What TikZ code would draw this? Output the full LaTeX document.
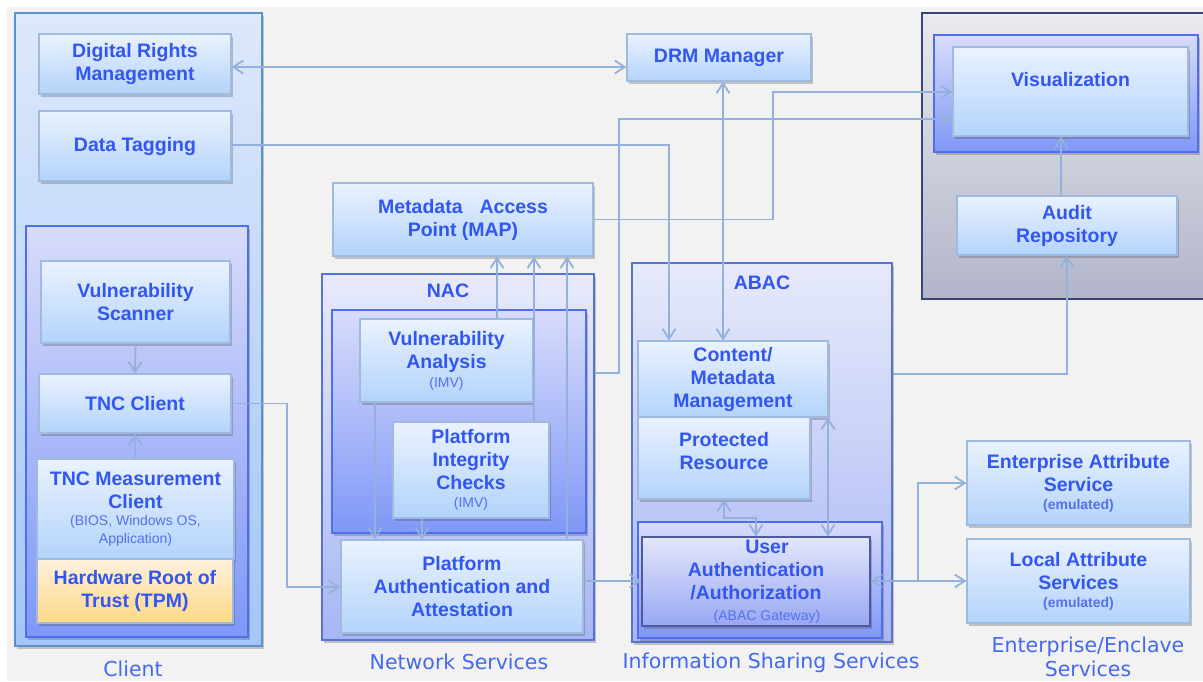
\documentclass[tikz,border=0pt]{standalone}
\usepackage{fontspec}
\setmainfont{Liberation Sans}
\newfontfamily\captionfam{DejaVu Sans}
\usetikzlibrary{arrows.meta,shadows}

\definecolor{paper}{HTML}{F2F2F2}
\definecolor{txtblue}{RGB}{50,86,242}
\definecolor{subblue}{RGB}{84,112,236}
\definecolor{capblue}{RGB}{68,104,242}
\definecolor{wire}{HTML}{93B1DA}
\definecolor{blkTop}{HTML}{EAF2FE}
\definecolor{blkBot}{HTML}{B3D3FB}
\definecolor{blkLine}{HTML}{9FBADF}
\definecolor{purTop}{HTML}{D8DCFA}
\definecolor{purBot}{HTML}{7F97F7}
\definecolor{purLine}{HTML}{4F6EEF}
\definecolor{lavTop}{HTML}{E7EAFB}
\definecolor{lavBot}{HTML}{A8B6F3}
\definecolor{lavLine}{HTML}{5572D4}
\definecolor{cliTop}{HTML}{DDE8FB}
\definecolor{cliBot}{HTML}{A3C6F8}
\definecolor{cliLine}{HTML}{5B93C9}
\definecolor{hwTop}{HTML}{FEF1DC}
\definecolor{hwBot}{HTML}{FDD886}
\definecolor{gwTop}{HTML}{E3E6FA}
\definecolor{gwBot}{HTML}{98A8F3}
\definecolor{gwLine}{HTML}{4B5B9C}
\definecolor{grTop}{HTML}{E9EAEE}
\definecolor{grBot}{HTML}{B2B5CA}
\definecolor{grLine}{HTML}{394777}

\newcommand\subtxt[1]{{\mdseries\fontsize{14}{17}\selectfont\color{subblue}#1}}
\newcommand\subbold[1]{{\fontsize{14}{17}\selectfont\color{subblue}#1}}

\tikzset{
  shade box/.style={drop shadow={shadow xshift=2pt, shadow yshift=-2.5pt, opacity=0.28, fill=black!75}},
  blk/.style={rectangle, draw=blkLine, line width=1.2pt, top color=blkTop, bottom color=blkBot,
    inner sep=0pt, align=center, text=txtblue, font=\bfseries\fontsize{19.5}{23}\selectfont, shade box},
  hwblk/.style={blk, top color=hwTop, bottom color=hwBot},
  gwblk/.style={blk, draw=gwLine, top color=gwTop, bottom color=gwBot},
  purplebox/.style={rectangle, draw=purLine, line width=1.3pt, top color=purTop, bottom color=purBot, inner sep=0pt, shade box},
  lavbox/.style={rectangle, draw=lavLine, line width=1.3pt, top color=lavTop, bottom color=lavBot, inner sep=0pt, shade box},
  clientbox/.style={rectangle, draw=cliLine, line width=1.3pt, top color=cliTop, bottom color=cliBot, inner sep=0pt, shade box},
  graybox/.style={rectangle, draw=grLine, line width=1.3pt, top color=grTop, bottom color=grBot, inner sep=0pt},
  boxtitle/.style={text=txtblue, font=\bfseries\fontsize{19.5}{23}\selectfont, inner sep=0pt},
  inlabel/.style={text=txtblue, font=\bfseries\fontsize{19.5}{23}\selectfont, align=center, inner sep=0pt},
  caption/.style={text=capblue, font=\captionfam\fontsize{20.5}{23.5}\selectfont, align=center, inner sep=0pt},
  conn/.style={draw=wire, line width=1.8pt},
  >={Straight Barb[length=10pt,width=13pt]}
}

\begin{document}
\begin{tikzpicture}[x=1pt,y=-1pt]
\useasboundingbox (0,0) rectangle (1203,681);
\fill[white] (0,0) rectangle (1203,681);
\fill[paper] (7,7) rectangle (1203,681);

% ---- group containers ----
\node[clientbox, minimum width=247, minimum height=633] (clientOut) at (138.5,329.5) {};
\node[purplebox, minimum width=222, minimum height=411] (clientIn) at (137,431.5) {};
\node[lavbox, minimum width=272, minimum height=366] (nacOut) at (458,457) {};
\node[purplebox, minimum width=254, minimum height=223] (nacIn) at (459,421.5) {};
\node[lavbox, minimum width=260, minimum height=379] (abacOut) at (762,452.5) {};
\node[purplebox, minimum width=244, minimum height=116] (gwBox) at (760,580) {};
\node[graybox, minimum width=288, minimum height=286] (auditOut) at (1066,156) {};
\node[purplebox, minimum width=264, minimum height=117] (vizBox) at (1066,93.5) {};

\node[boxtitle] (nacTitle) at (448,291) {NAC};
\node[boxtitle] (abacTitle) at (762,283) {ABAC};

% ---- client side ----
\node[blk, minimum width=192, minimum height=60] (drm) at (135,64) {Digital Rights\\Management};
\node[blk, minimum width=192, minimum height=70] (dt) at (135,146) {Data Tagging};
\node[blk, minimum width=189, minimum height=82] (vs) at (135.5,302) {Vulnerability\\Scanner};
\node[blk, minimum width=192, minimum height=59] (tnc) at (135,403.5) {TNC Client};
\node[blk, minimum width=197, minimum height=100] (tncm) at (135.5,509)
  {TNC Measurement\\Client\\[-6pt]\subtxt{(BIOS, Windows OS,}\\[-5pt]\subtxt{Application)}};
\node[hwblk, minimum width=196, minimum height=64] (hw) at (135,591) {Hardware Root of\\Trust (TPM)};

% ---- network services ----
\node[blk, minimum width=184, minimum height=47] (drmmgr) at (719,57.5) {DRM Manager};
\node[blk, minimum width=260, minimum height=73] (map) at (463,219.5) {Metadata\hspace{17pt}Access\\Point (MAP)};
\node[blk, minimum width=173, minimum height=83] (va) at (446.5,360.5) {Vulnerability\\Analysis\\[-4pt]\subtxt{(IMV)}};
\node[blk, minimum width=156, minimum height=96] (pic) at (471,470) {Platform\\Integrity\\Checks\\[-5pt]\subtxt{(IMV)}};
\node[blk, minimum width=242, minimum height=93] (paa) at (462,586.5) {Platform\\Authentication and\\Attestation};

% ---- information sharing services ----
\node[blk, minimum width=190, minimum height=76] (cmm) at (733,379) {Content/\\Metadata\\Management};
\node[blk, minimum width=172, minimum height=82,
  label={[inlabel, name=prText, yshift=6.5pt]center:Protected\\Resource}] (pr) at (724,458) {};
\node[gwblk, minimum width=228, minimum height=89] (ua) at (756,581.5)
  {\hspace*{22pt}User\\Authentication\\/Authorization\\[-2pt]\hspace*{22pt}\subtxt{(ABAC Gateway)}};

% ---- audit / visualization ----
\node[blk, minimum width=235, minimum height=89,
  label={[inlabel, name=vizText, yshift=11.5pt]center:Visualization}] (viz) at (1070.5,91.5) {};
\node[blk, minimum width=220, minimum height=59] (audit) at (1067,225.5) {Audit\\Repository};

% ---- enterprise services ----
\node[blk, minimum width=223, minimum height=84] (eas) at (1078.5,483) {Enterprise Attribute\\Service\\[-5pt]\subbold{(emulated)}};
\node[blk, minimum width=223, minimum height=84] (las) at (1078.5,581) {Local Attribute\\Services\\[-5pt]\subbold{(emulated)}};

% ---- column captions ----
\node[caption] (capClient) at (133,669) {Client};
\node[caption] (capNet) at (459,662) {Network Services};
\node[caption] (capInfo) at (771,663) {Information Sharing Services};
\node[caption] (capEnt) at (1088,657) {Enterprise/Enclave\\Services};

% ---- connectors ----
\draw[conn,<->] (drm.east |- 0,67) -- (drmmgr.west |- 0,67);
\draw[conn,->] (dt.east |- 0,145) -| (cmm.north -| 669,0);
\draw[conn,<->] (drmmgr.south -| 723,0) -- (cmm.north -| 723,0);
\draw[conn,->] (map.east) -| (773,92) -- (viz.west |- 0,92);
\draw[conn,->] (nacOut.east |- 0,373) -| (619,119) -- (viz.west |- 0,119);
\draw[conn,->] (abacOut.east |- 0,374) -| (audit.south);
\draw[conn,->] (audit.north -| 1061,0) -- (viz.south -| 1061,0);

\draw[conn,->] (vs.south) -- (tnc.north);
\draw[conn,->] (tncm.north) -- (tnc.south);
\draw[conn,->] (tnc.east) -| (287,587) -- (paa.west |- 0,587);

\draw[conn,->] (va.north -| 497,0) -- (map.south -| 497,0);
\draw[conn,->] (pic.north -| 534,0) -- (map.south -| 534,0);
\draw[conn,->] (paa.north -| 567,0) -- (map.south -| 567,0);
\draw[conn,->] (va.south -| 375,0) -- (paa.north -| 375,0);
\draw[conn,->] (pic.south -| 422,0) -- (paa.north -| 422,0);
\draw[conn,->] (paa.east |- 0,581) -- (ua.west |- 0,581);

\draw[conn,<->] (pr.south -| 724,0) -- (724,518) -- (756,518) -- (ua.north -| 756,0);
\draw[conn,<->] (cmm.south -| 828,0) -- (ua.north -| 828,0);

\coordinate (split) at (918,581);
\draw[conn,<->] (ua.east |- 0,581) -- (las.west |- 0,581);
\draw[conn,->] (split) |- (eas.west);
\end{tikzpicture}
\end{document}
